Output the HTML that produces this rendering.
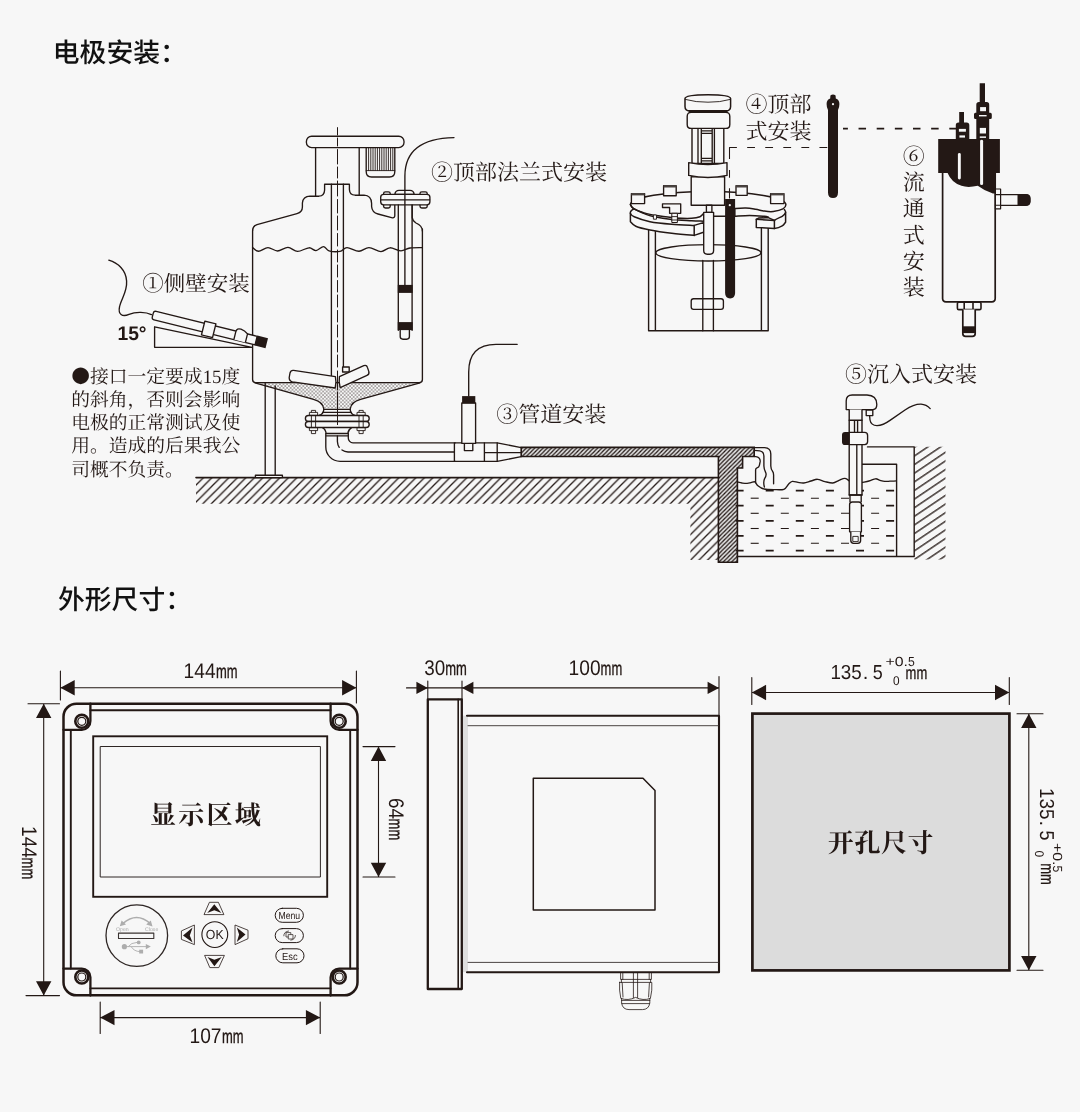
<!DOCTYPE html>
<html lang="zh-CN">
<head>
<meta charset="utf-8">
<title>电极安装 / 外形尺寸</title>
<style>
html,body{margin:0;padding:0;background:#f7f7f7;}
body{width:1080px;height:1112px;overflow:hidden;font-family:"Liberation Sans","Noto Sans CJK SC",sans-serif;}
svg{display:block;will-change:transform;transform:translateZ(0);}
text{text-rendering:geometricPrecision;}
.k{fill:none;stroke:#231815;stroke-width:1.35;stroke-linecap:round;stroke-linejoin:round;}
.kb{fill:#f7f7f7;stroke:#231815;stroke-width:1.35;stroke-linejoin:round;}
.t2{stroke-width:1.9;}
.t15{stroke-width:1.5;}
.thin{stroke-width:0.8;}
.blk{fill:#231815;stroke:none;}
.ttl{font-family:"Liberation Sans","Noto Sans CJK SC",sans-serif;font-weight:500;font-size:26.8px;fill:#111;}
.lab{font-family:"Liberation Serif","Noto Serif CJK SC",serif;font-size:22px;fill:#231815;}
.note{font-family:"Liberation Serif","Noto Serif CJK SC",serif;font-size:18.8px;fill:#231815;}
.dim{font-family:"Liberation Sans","Noto Sans CJK SC",sans-serif;font-size:19.5px;fill:#231815;}
.big{font-family:"Liberation Serif","Noto Serif CJK SC",serif;font-weight:700;font-size:26px;fill:#231815;}
.btn{font-family:"Liberation Sans",sans-serif;fill:#231815;}
</style>
</head>
<body>
<svg width="1080" height="1112" viewBox="0 0 1080 1112">
<defs>
<pattern id="hatch" patternUnits="userSpaceOnUse" width="8.5" height="8.5" x="-0.4" y="477.5">
<path d="M-1,9.5 L9.5,-1 M-1,1 L1,-1 M7.5,9.5 L9.5,7.5" stroke="#231815" stroke-width="1.3" fill="none"/>
</pattern>
<pattern id="hatchR" patternUnits="userSpaceOnUse" width="12" height="7.15" patternTransform="translate(914,452) rotate(-34)">
<path d="M-1,3.5 H13" stroke="#231815" stroke-width="1.3" fill="none"/>
</pattern>
<pattern id="dense" patternUnits="userSpaceOnUse" width="4.2" height="4.2">
<rect width="4.2" height="4.2" fill="#e2e2e2"/>
<path d="M-1,5.2 L5.2,-1 M-1,1 L1,-1 M3.2,5.2 L5.2,3.2" stroke="#231815" stroke-width="1.25" fill="none"/>
</pattern>
<pattern id="dots" patternUnits="userSpaceOnUse" width="3.6" height="3.6">
<rect width="3.6" height="3.6" fill="#f7f7f7"/>
<circle cx="0.9" cy="0.9" r="0.62" fill="#231815"/><circle cx="2.7" cy="2.7" r="0.62" fill="#231815"/>
</pattern>
</defs>
<rect width="1080" height="1112" fill="#f7f7f7"/>

<!-- TITLES -->
<text class="ttl" x="52.8" y="61.5">电极安装：</text>
<text class="ttl" x="58" y="608.8">外形尺寸：</text>

<!--TOP-->
<!-- ===== ground ===== -->
<g id="ground">
<path d="M196,477.4 H718 V560 H690.4 V503.8 H196 Z" fill="url(#hatch)"/>
<path class="k" d="M196,477.6 H718" style="stroke-width:1.6"/>
</g>
<!-- ===== tank ===== -->
<g id="tank">
<!-- funnel stipple -->
<path d="M255,382.6 H420 L360.5,399.4 Q351,402 350.2,408.6 H323.8 Q323,402 313.5,399.4 Z" fill="url(#dots)"/>
<path class="k" d="M252.6,230.5 V379.5 Q252.6,382.6 255.6,382.6 H419.4 Q422.4,382.6 422.4,379.5 V229"/>
<path class="k" d="M255,382.8 L313.5,399.4 Q323,402 323.8,409 Q323.8,414 319,415.4 M420,382.8 L360.5,399.4 Q351,402 350.2,409 Q350.2,414 355,415.4"/>
<path class="k" d="M324,409.4 H350 M322.5,412.3 H351.5"/>
<!-- top shoulder -->
<path class="k" d="M252.6,230.5 Q252.6,226 257,224.6 L297,213.6 Q302.4,212 302.4,207 V203 Q303,196.4 310,196.2 H319 Q324.4,196 324.6,190 V184.2 H349.4 V189.5 Q349.6,195 355,195.2 H364 Q371.4,195.6 371.6,203.5 V206.5 Q372,212.4 378,214 L392.5,217.8 Q394.8,218 394.8,215.5 V205"/>
<path class="k" d="M412.2,205 V217.5 Q412.6,221 416,223 Q422.2,225.6 422.4,231"/>
<!-- top cap & motor -->
<rect class="k" x="306.4" y="136.2" width="97.6" height="11.4" rx="5.2"/>
<path class="k" d="M315.6,147.6 V196 M359.2,147.6 V194.8"/>
<path class="k" d="M366.2,147.6 V171.5 Q366.2,177 371.5,177 H389.5 Q394.8,177 394.8,171.5 V147.6"/>
<path class="k" d="M368.6,148 V170.4 M370.8,148 V170.4 M373,148 V170.4 M375.2,148 V170.4 M377.4,148 V170.4 M379.6,148 V170.4 M381.8,148 V170.4 M384,148 V170.4 M386.2,148 V170.4 M388.4,148 V170.4 M390.6,148 V170.4 M392.8,148 V170.4 M366.2,170.6 H394.8" style="stroke-width:0.9"/>
<!-- shaft -->
<path class="k" d="M331.4,184.2 V376.6 M343.4,184.2 V366.6"/>
<!-- liquid -->
<path class="k" d="M252.6,247.6 C253.6,248.2 255.9,251.2 258.5,251.2 C261.1,251.2 264.8,247.6 268.0,247.6 C271.2,247.6 274.2,251.0 277.5,251.0 C280.8,251.0 284.7,247.3 288.0,247.4 C291.3,247.5 294.0,251.3 297.5,251.4 C301.0,251.5 305.9,247.9 309.0,247.8 C312.1,247.7 313.6,250.8 316.0,250.6 C318.4,250.4 321.3,246.6 323.5,246.6 C325.7,246.6 326.2,250.0 329.0,250.8 C331.8,251.6 337.0,251.9 340.0,251.4 C343.0,250.9 343.8,247.6 347.0,247.6 C350.2,247.6 355.3,251.2 359.0,251.2 C362.7,251.2 365.3,247.5 369.0,247.6 C372.7,247.7 377.5,251.6 381.0,251.6 C384.5,251.6 386.7,247.9 390.0,247.8 C393.3,247.7 397.7,250.8 401.0,250.8 C404.3,250.8 406.4,248.5 410.0,248.0 C413.6,247.5 420.3,247.7 422.4,247.6"/>
<!-- impeller -->
<rect class="kb" x="342.6" y="367" width="6.6" height="5"/>
<path class="kb" d="M293.6,370.4 L335.4,376.6 Q336.6,382 335.2,388 L292.4,381.8 Q289,381 289.2,377.5 L290,373 Q290.8,370 293.6,370.4 Z"/>
<path class="kb" d="M339.4,376.6 L363.8,365.6 Q366.6,364.6 367.4,367.4 L368.8,371.4 Q369.6,374.2 367,375.4 L340.2,387.6 Q338.6,382 339.4,376.6 Z"/>
<!-- bottom flange -->
<g class="kb">
<rect x="311.4" y="410.4" width="4.2" height="23.2" stroke-width="0.9"/><rect x="359" y="410.4" width="4.2" height="23.2" stroke-width="0.9"/>
<rect x="309.4" y="412.4" width="8.2" height="3"  stroke-width="0.9"/><rect x="357" y="412.4" width="8.2" height="3" stroke-width="0.9"/>
<rect x="309.4" y="427.6" width="8.2" height="3"  stroke-width="0.9"/><rect x="357" y="427.6" width="8.2" height="3" stroke-width="0.9"/>
</g>
<rect class="kb" x="305.4" y="415.5" width="63.8" height="6" rx="3"/>
<rect class="kb" x="305.4" y="421.5" width="63.8" height="6" rx="3"/>
<path class="k" d="M311.4,415.5 V427.5 M315.6,415.5 V427.5 M359,415.5 V427.5 M363.2,415.5 V427.5" style="stroke-width:0.9"/>
<path class="k" d="M322.4,427.6 Q325.4,429 326.2,433.5 H347.8 Q348.4,429.4 351.6,427.6 M326.2,435.8 H347.8"/>
<path class="k" d="M337.5,127.6 V135 M337.5,138 V146 M337.5,149.5 V164 M337.5,167 V178 M337.5,181 V196 M337.5,199.5 V213 M337.5,216 V230 M337.5,233.5 V246 M337.5,250 V262 M337.5,265 V277 M337.5,280.5 V292 M337.5,295 V307 M337.5,310.5 V322 M337.5,325 V337 M337.5,340.5 V352 M337.5,355 V367 M337.5,371 V390 M337.5,392 V424.6" style="stroke-width:1"/>
<!-- pipe -->
<path class="k" d="M325.8,433.5 V447 A14.3,14.3 0 0 0 340.1,461.3 H455.2"/>
<path class="k" d="M348.3,433.5 V438 A4.7,4.7 0 0 0 353,442.8 H455.2"/>
<path class="k" d="M337.4,436 V441.5 Q337.6,445 339.2,447.4 M342,450 Q344.6,451.9 348,452 H454"/>
<!-- leg -->
<path class="k" d="M265.2,383.5 V475.3 M275.2,386 V475.3"/>
<rect class="kb" x="255.4" y="475.2" width="27" height="2.4"/>
<!-- top flange electrode 2 -->
<g class="kb">
<rect x="383.6" y="191.8" width="6.6" height="16.2" rx="1.8"/><rect x="420" y="191.8" width="7.2" height="16.2" rx="1.8"/>
<path d="M394.8,194.3 Q395.4,190.3 399,190.3 H410 Q413.6,190.3 414.2,194.3 Z"/>
<rect x="380.7" y="194.3" width="49.2" height="10.5" rx="3"/>
</g>
<path class="k" d="M381,199.8 H429.6"/>
<path class="k" d="M398.3,204.8 V330.2 M412.1,204.8 V330.2"/>
<rect class="blk" x="397.8" y="284.9" width="14.9" height="8"/>
<rect class="blk" x="397.8" y="322.1" width="14.9" height="8"/>
<path class="k" d="M400.2,330.2 V336.6 Q400.2,339.2 403,339.2 H406.6 Q409.4,339.2 409.4,336.6 V330.2"/>
<!-- cable 2 -->
<path class="k" d="M404.9,284.9 V176 Q404.9,138.5 454,137.6"/>
</g>
<!-- ===== electrode 1 (side wall) ===== -->
<g id="e1">
<path class="k" d="M154.6,326.8 V347.3 H252 L154.6,326.8"/>
<path class="k" d="M151.4,314.6 C146,312 136,311.4 129,314.4 C122,317.4 118,314 119.5,307 C121,299 127.4,292 126.6,281 C126,270 118,263 108.8,260.2"/>
<g transform="translate(152.8,315) rotate(13.9)">
<path class="kb" d="M2.4,-4.4 H106.4 V4.4 H2.4 Q0,4.4 0,2 V-2 Q0,-4.4 2.4,-4.4 Z"/>
<rect class="kb" x="52" y="-6.6" width="11.4" height="14.2"/>
<path class="kb" d="M84.6,4.4 V-4 Q84.8,-7.8 89,-7.4 Q93,-7 96.5,-4.4 V4.4"/>
<rect class="blk" x="106.4" y="-5.2" width="11" height="10.4"/>
</g>
</g>
<!-- ===== pipe sensor 3 ===== -->
<g id="e3">
<path class="k" d="M455.2,442.8 H497.2 L521.2,447.7 M455.2,461.3 H497.2 L521.2,456.7"/>
<path class="k" d="M454.4,442.8 V461.3 M484.4,442.8 V461.3 M497.2,442.8 V461.3 M484.4,452.6 H521"/>
<rect class="kb" x="464.4" y="443.3" width="8.4" height="7.3"/>
<rect class="kb" x="461.8" y="403" width="13.8" height="40.3"/>
<rect class="blk" x="462.1" y="396.1" width="13.2" height="7.2"/>
<path class="k" d="M468.7,396.1 V372 Q468.7,344.4 496,344.3 H517.2"/>
</g>
<!-- hatched pipe & wall -->
<path d="M521.2,447.4 H754.2 V456.5 H742.6 V468 H737.4 V562.2 H718.4 V456.5 H521.2 Z" fill="url(#dense)" stroke="#231815" stroke-width="1.6" stroke-linejoin="miter"/>
<!-- ===== pool ===== -->
<g id="pool">
<path d="M914.2,446.8 H945.5 V559.5 H914.2 Z" fill="url(#hatchR)"/>
<path class="k" d="M737.4,556.5 H914.2 V446.9 H867.5 M862.2,464.2 H896.6 V556.5" style="stroke-width:1.4"/>
<!-- water dashes -->
<g class="k" stroke-dasharray="8 22.1" style="stroke-width:1.8;stroke-linecap:butt">
<path d="M735.6,490.6 H896"/><path d="M735.6,505.7 H896"/><path d="M735.6,520.9 H896"/><path d="M735.6,535.9 H896"/><path d="M735.6,550.6 H896"/>
</g>
<g class="k" stroke-dasharray="8 22.1" style="stroke-width:1.1;stroke-linecap:butt">
<path d="M750.7,498.2 H896"/><path d="M750.7,513.3 H896"/><path d="M750.7,528.5 H896"/><path d="M750.7,543.3 H896"/>
</g>
<!-- waterfall -->
<path class="k" d="M754.2,447.6 H764.6 Q770.8,447.8 770.8,454 V466 Q771,469.6 772.4,471 Q773.8,472.6 773.6,476 V483.7"/>
<path class="k" d="M754.2,450.4 L759.8,450.8 Q763.8,451.4 763.9,456 V466 Q764,469.4 765.6,472.4 Q767,475 764.6,478.6 Q763,482 764.4,487"/>
<path class="k" d="M754.2,456.4 L757,456.9 Q760.4,458 760.2,461.4 L759.4,465.4 Q759,467.4 757,467.8 Q755.6,468.4 755.6,470 V482.8"/>
<path class="k" d="M737.4,481.9 C738.2,482.1 740.4,482.8 742.0,483.0 C743.6,483.2 745.7,483.5 747.2,483.4 C748.7,483.3 749.7,482.9 751.0,482.6 C752.3,482.4 753.8,481.4 754.9,481.9 C756.0,482.4 756.4,484.5 757.9,485.7 C759.4,486.9 761.3,488.4 764.0,489.0 C766.7,489.6 770.7,489.6 774.0,489.6 C777.3,489.7 781.5,490.2 783.9,489.3 C786.3,488.4 787.1,485.5 788.5,484.2 C789.9,482.9 790.7,481.7 792.3,481.4 C793.9,481.1 796.1,482.1 798.0,482.4 C799.9,482.7 801.6,483.2 803.8,483.0 C806.0,482.8 808.7,481.6 811.0,481.0 C813.3,480.4 815.2,479.2 817.5,479.3 C819.8,479.4 822.5,481.0 825.0,481.6 C827.5,482.2 830.5,483.2 832.8,483.0 C835.1,482.8 837.0,481.2 839.0,480.4 C841.0,479.6 843.2,478.3 845.0,478.4 C846.8,478.5 848.8,480.7 849.6,481.1"/>
<path class="k" d="M861.8,482.6 C863.0,482.3 866.7,481.6 869.0,481.0 C871.3,480.4 873.8,478.9 875.6,478.8 C877.4,478.7 878.5,480.0 880.0,480.4 C881.5,480.8 883.0,481.3 884.7,481.4 C886.4,481.5 888.0,481.3 890.0,481.2 C892.0,481.1 895.3,480.9 896.4,480.8"/>
</g>
<!-- ===== immersion electrode 5 ===== -->
<g id="e5">
<path class="kb" d="M846.2,401 Q846.2,395 852.2,395 H867 Q876.8,395.4 876.8,404.4 Q876.8,409.2 873,409.6 H846.2 Z"/>
<rect class="kb" x="866.2" y="410" width="6.6" height="5.6"/>
<path class="k" d="M869.6,415.6 L870,420 Q871,425.6 877,425.6 Q883,425.4 890,420.4 L905,410 Q914,404 921,404.2 Q926.4,404.6 930.2,408.6"/>
<path class="kb" d="M849.2,409.6 V495 H862 V409.6" style="stroke-width:1.4"/>
<path class="k" d="M849.2,420.2 H862 M854.5,420.2 V432.4 M857.6,420.2 V432.4 M856.8,444.6 V495 M849.2,495 H862"/>
<path class="kb" d="M849.2,432.4 H864.6 Q867.6,432.4 867.6,435.4 V441.6 Q867.6,444.6 864.6,444.6 H849.2 Z"/>
<path class="blk" d="M849.4,431.9 H845 Q842,431.9 842,435 V442 Q842,445.1 845,445.1 H849.4 Z"/>
<path class="kb" d="M850,495 V502 M861.2,495 V502"/>
<path class="kb" d="M849.6,504.6 Q849.6,502 852.4,502 H858.6 Q861.4,502 861.4,504.6 V531.8 H849.6 Z"/>
<path class="kb" d="M850.8,531.8 V540.6 Q850.8,543.3 853.6,543.3 H857.8 Q860.6,543.3 860.6,540.6 V531.8"/>
<rect class="k" x="853.2" y="536.4" width="5" height="5.2" style="stroke-width:0.9"/>
</g>
<!-- ===== reactor 4 ===== -->
<g id="r4">
<!-- vessel -->
<path class="k" d="M648.6,222 V330.7 H768.2 V222 M655.4,226 V330.7 M761.4,226 V330.7" style="stroke-width:1.4"/>
<ellipse class="k" cx="708.4" cy="252.8" rx="52.6" ry="8.2"/>
<path class="k" d="M702.8,260.5 V330.7 M713.4,260.5 V330.7"/>
<path class="kb" d="M693.6,298.7 H721 Q723.4,298.7 723.4,301 V307 Q723.4,309.3 721,309.3 H693.6 Q691.2,309.3 691.2,307 V301 Q691.2,298.7 693.6,298.7 Z"/>
<path class="k" d="M702.8,298.7 V309.3 M713.4,298.7 V309.3"/>
<!-- flange (lower plate) -->
<path fill="#f7f7f7" stroke="none" d="M633.3,209.2 C633.0,209.5 631.7,210.1 631.2,210.8 C630.8,211.5 629.9,212.3 630.4,213.3 V221.7 C631.3,222.5 632.5,224.9 635.8,226.2 C639.1,227.6 644.0,228.8 650.0,230.0 C656.0,231.2 664.3,232.4 671.7,233.3 C679.1,234.2 690.5,235.1 694.2,235.4 L705,231.7 V222.1 L694.2,225.4 L660,215 Z"/>
<path class="k" d="M633.3,209.2 C633.0,209.5 631.7,210.1 631.2,210.8 C630.8,211.5 629.9,212.3 630.4,213.3 V221.7 C631.3,222.5 632.5,224.9 635.8,226.2 C639.1,227.6 644.0,228.8 650.0,230.0 C656.0,231.2 664.3,232.4 671.7,233.3 C679.1,234.2 690.5,235.1 694.2,235.4 L705,231.7 V222.1 L694.2,225.4" style="stroke-width:1.5"/>
<path class="k" d="M630.4,213.3 C630.9,214.3 630.9,215.3 634.2,216.7 C637.5,218.1 643.8,220.4 650.0,221.7 C656.2,222.9 664.3,223.6 671.7,224.2 C679.1,224.8 690.5,225.2 694.2,225.4 V235.4" style="stroke-width:1.5"/>
<!-- right flange -->
<path fill="#f7f7f7" stroke="none" d="M784.4,209.6 C784.6,210.1 786.0,211.5 785.6,212.6 V222.2 C785.0,222.8 784.0,224.8 782.2,225.9 C780.4,227.0 776.0,228.4 774.4,228.6 L760,222 L770,212 Z"/>
<path class="k" d="M784.4,209.6 C784.6,210.1 786.0,211.5 785.6,212.6 V222.2 C785.0,222.8 784.0,224.8 782.2,225.9 C780.4,227.0 776.0,228.4 774.4,228.6" style="stroke-width:1.5"/>
<path class="k" d="M785.6,212.6 C785.2,213.7 784.0,215.2 782.2,216.3 C780.4,217.4 776.0,218.8 774.4,220.4" style="stroke-width:1.5"/>
<path class="kb" d="M756.3,219.3 L758.5,218.1 L768.3,217.6 L774.4,220.4 V228.5 L756.3,227.4 Z" style="stroke-width:1.5"/>
<path class="k" d="M756.3,219.3 L774.4,220.4" style="stroke-width:1.5"/>
<!-- lid -->
<path class="kb" d="M630.4,204.6 A77.6,13.2 0 0 1 785.9,204.8 C785.8,206.3 785.1,207.8 783.0,208.9 C780.9,210.0 776.4,211.1 773.3,211.5 C770.2,211.9 767.3,211.5 764.4,211.1 C761.5,210.7 758.7,209.8 755.6,209.3 C752.5,208.8 749.4,208.2 745.9,208.1 C742.4,208.0 736.6,208.4 734.8,208.5 V216.3 H713 V221.2 H703.4 C701.5,221.1 697.0,221.1 691.7,220.8 C686.4,220.5 678.1,220.3 671.7,219.6 C665.3,218.9 658.0,217.6 653.3,216.6 C648.6,215.6 645.2,213.9 643.6,213.4 C640.0,211.7 635.6,209.7 633.3,208.3 C631.0,206.9 630.9,205.2 630.4,204.6 Z" style="stroke-width:1.5"/>
<path class="k" d="M630.4,204.6 C630.9,205.2 631.0,206.9 633.3,208.3 C635.6,209.7 640.0,211.7 644.2,212.9 C648.4,214.2 653.2,215.0 658.3,215.8 C663.4,216.6 669.4,217.5 675.0,217.9 C680.6,218.3 687.5,218.5 691.7,218.3 C695.9,218.1 698.0,217.5 700.0,216.7 C702.0,215.9 703.1,213.9 703.8,213.3" style="stroke-width:1.5"/>
<path class="k" d="M734.8,216.3 C737.3,216.2 744.7,215.6 749.6,215.6 C754.5,215.6 761.3,216.1 764.4,216.3 C767.5,216.5 767.5,216.9 768.1,217.0" style="stroke-width:1.5"/>
<!-- bracket on lid -->
<path class="kb" d="M662.5,203.8 H680.7 V213.3 H669.6 V207.5 H662.5 Z"/>
<rect class="kb" x="671.8" y="213.3" width="5.6" height="9.2" style="stroke-width:1"/><path class="k" d="M671.8,216.6 H677.4 M671.8,220 H677.4" style="stroke-width:0.9"/>
<rect class="kb" x="653.4" y="215" width="3.1" height="4.2" style="stroke-width:0.9"/>
<!-- bolts -->
<g class="kb">
<rect x="631.4" y="193.6" width="13.2" height="10"/><rect x="663.6" y="185.7" width="12.6" height="10"/>
<rect x="736" y="185.7" width="11.2" height="9.6"/><rect x="770.6" y="193.6" width="13.4" height="10"/>
</g>
<g fill="#4a4340"><rect x="631.4" y="193" width="13.2" height="2.4"/><rect x="663.6" y="185.1" width="12.6" height="2.4"/><rect x="736" y="185.1" width="11.2" height="2.4"/><rect x="770.6" y="193" width="13.4" height="2.4"/></g>
<!-- motor column -->
<rect class="kb" x="691.2" y="176.7" width="33.4" height="28.5" style="stroke-width:1.4"/>
<rect class="kb" x="706.4" y="205.2" width="5.5" height="7.2"/>
<path class="kb" d="M703.7,212.4 H713.6 V250.5 Q713.6,254.2 710,254.2 H707.3 Q703.7,254.2 703.7,250.5 Z"/>
<rect class="kb" x="692" y="127.5" width="31.8" height="36" style="stroke-width:1.4"/>
<path class="k" d="M698,128 V163 M701.3,128 V163 M712.2,128 V163 M714.4,128 V163 M701.3,130.8 H712.2 M701.3,133.4 H712.2 M701.3,158.3 H712.2 M701.3,160.8 H712.2"/>
<path class="kb" d="M688.7,162.6 Q708,166.6 727,162.6 V175.4 Q708,179.6 688.7,175.4 Z" style="stroke-width:1.4"/>
<path class="kb" d="M687.2,116.4 Q687.2,112.4 691.2,112.4 H725.8 Q729.8,112.4 729.8,116.4 V124.4 Q729.8,128.4 725.8,128.4 H691.2 Q687.2,128.4 687.2,124.4 Z" style="stroke-width:1.4"/>
<path class="blk" d="M688.6,110 H727.6 V112.6 H688.6 Z"/>
<path class="kb" d="M685,98.6 Q685,95 708,94.8 Q730.6,95 730.6,98.6 V106.4 Q730.6,110.8 726,110.8 H689.6 Q685,110.8 685,106.4 Z" style="stroke-width:1.5"/>
<path class="k" d="M685.2,99.4 Q696,102.4 708,102.2 Q720,102.4 730.4,99.4" style="stroke-width:0.9"/>
<!-- black electrode in vessel -->
<path class="blk" d="M725.1,198.9 H735.1 V293 Q735.1,298.4 730.1,298.4 Q725.1,298.4 725.1,293 Z"/>
<circle cx="729.8" cy="205.2" r="1.1" fill="#f7f7f7"/>
<!-- dashed guide -->
<path class="k" d="M729.1,147.4 H828" stroke-dasharray="7.8 10.27" style="stroke-width:1.05;stroke-linecap:butt"/>
<path class="k" d="M729.5,147.4 V158.9 M729.5,170 V177.8 M729.5,188.3 V198.5" style="stroke-width:1.05;stroke-linecap:butt"/>
<path class="k" d="M843,128.7 H956" stroke-dasharray="7.5 10.65" stroke-dashoffset="2.6" style="stroke-width:1.8;stroke-linecap:butt"/>
<!-- standalone electrode -->
<path class="blk" d="M830.4,95.6 Q833,93.2 835.6,95.6 L835.8,98.4 Q839.4,99.6 839.4,104 Q839.4,107.6 838,110 V192.4 Q838,197.9 833,197.9 Q828,197.9 828,192.4 V110 Q826.6,107.6 826.6,104 Q826.6,99.6 830.2,98.4 Z"/>
<circle cx="833" cy="104.2" r="1.1" fill="#f7f7f7"/>
</g>
<!-- ===== flow cell 6 ===== -->
<g id="f6">
<path class="kb" d="M942.6,170 V298.6 Q942.6,301.9 946,301.9 H991.8 Q995.2,301.9 995.2,298.6 V170" style="stroke-width:1.7"/>
<!-- bottom fitting -->
<rect class="kb" x="957.4" y="302.2" width="23.6" height="7.4" rx="1.4" style="stroke-width:1.6"/>
<path class="k" d="M964.2,302.2 V309.6 M973,302.2 V309.6" style="stroke-width:1.6"/>
<path class="kb" d="M962.8,309.6 V333.4 Q962.8,336.3 965.6,336.3 H972.4 Q975.2,336.3 975.2,333.4 V309.6" style="stroke-width:1.7"/>
<rect class="blk" x="962.4" y="326.3" width="13.2" height="6.8"/>
<!-- side outlet -->
<rect class="kb" x="995.4" y="189" width="5.2" height="19.8" style="stroke-width:1.2"/>
<path class="k" d="M995.4,194.6 H1000.6 M995.4,205.3 H1000.6" style="stroke-width:1.1"/>
<path class="kb" d="M1000.6,194.6 H1026 Q1030,194.6 1030,198.6 V201.3 Q1030,205.3 1026,205.3 H1000.6 Z" style="stroke-width:1.2"/>
<path class="blk" d="M1017.5,194.2 H1026 Q1030.4,194.2 1030.4,198.6 V201.3 Q1030.4,205.7 1026,205.7 H1017.5 Z"/>
<!-- black cap -->
<path class="blk" d="M938.2,138.9 H999.9 V172.9 H995.9 V193.4 H992.9 Q984.1,190.8 977.8,185.8 Q967.8,188 961.5,185.8 Q951.4,182.4 947.6,172.9 H938.2 Z"/>
<rect x="957.9" y="153" width="2.9" height="26.5" rx="1.4" fill="#f7f7f7"/>
<rect x="980.1" y="139.8" width="3" height="45.3" rx="1.4" fill="#f7f7f7"/>
<!-- connectors -->
<path class="blk" d="M959.2,112.1 H964 V122.4 H966.6 Q969.3,122.4 969.3,125.2 V139.2 H955.8 V125.2 Q955.8,122.4 958.6,122.4 H959.2 Z"/>
<rect x="958.9" y="128.9" width="7" height="2.8" fill="#f7f7f7"/><rect x="959.4" y="135.4" width="5.6" height="2.2" fill="#f7f7f7"/>
<path class="blk" d="M979.7,83.2 H985 V102.1 H986.6 Q989.2,102.1 989.2,104.8 V112.8 H990.4 Q991.8,112.8 991.8,114.4 V117.4 Q991.8,119 990.4,119 H989.2 V139.2 H976.3 V119 H975.4 Q974,119 974,117.4 V114.4 Q974,112.8 975.4,112.8 H976.3 V104.8 Q976.3,102.1 979,102.1 H979.7 Z"/>
<rect x="980.1" y="107.1" width="5.9" height="4.1" fill="#f7f7f7"/><rect x="979" y="115" width="7.6" height="1.4" fill="#f7f7f7"/>
<rect x="979.8" y="127.9" width="6.2" height="5.6" fill="#f7f7f7"/><rect x="979.8" y="136.4" width="6.2" height="1.5" fill="#f7f7f7"/>
</g>
<!-- ===== labels ===== -->
<g class="lab">
<text x="142.2" y="290.6" font-size="21.5">①侧壁安装</text>
<text x="431" y="179.6">②顶部法兰式安装</text>
<text x="496.2" y="422.2">③管道安装</text>
<text x="745.4" y="112">④顶部</text>
<text x="745.4" y="139">式安装</text>
<text x="845" y="381.8">⑤沉入式安装</text>
<g text-anchor="middle">
<text x="913.8" y="164.2">⑥</text><text x="913.8" y="190">流</text><text x="913.8" y="216.4">通</text><text x="913.8" y="242.8">式</text><text x="913.8" y="269">安</text><text x="913.8" y="295">装</text>
</g>
</g>
<text x="117.4" y="339.7" font-family="Liberation Sans, sans-serif" font-weight="700" font-size="19.8" fill="#231815" textLength="29.2" lengthAdjust="spacingAndGlyphs">15°</text>
<g class="note">
<text x="71.2" y="383" textLength="169" lengthAdjust="spacing"><tspan font-family="Noto Serif CJK SC, serif">●</tspan>接口一定要成15度</text>
<text x="71.2" y="406.4">的斜角，否则会影响</text>
<text x="71.2" y="429.1">电极的正常测试及使</text>
<text x="71.2" y="452.2">用。造成的后果我公</text>
<text x="71.2" y="475.6">司概不负责。</text>
</g>

<!--/TOP-->

<!--BOTTOM-->
<!-- ===== front view ===== -->
<g id="front">
<rect class="k" x="63.5" y="703.7" width="294" height="291.6" rx="13" ry="13" style="stroke-width:2.5"/>
<path class="k" d="M90.4,710.3 H330.6 M90.4,988.4 H330.6 M70.8,730 V968.6 M350.2,730 V968.6" style="stroke-width:1.9"/>
<path class="k" d="M90.4,703.7 V721 A8.6,8.6 0 0 1 81.8,729.8 H63.5" style="stroke-width:2.3"/>
<path class="k" d="M330.6,703.7 V721 A8.6,8.6 0 0 0 339.2,729.8 H357.5" style="stroke-width:2.3"/>
<path class="k" d="M90.4,995.5 V977.2 A8.6,8.6 0 0 0 81.8,968.6 H63.5" style="stroke-width:2.3"/>
<path class="k" d="M330.6,995.5 V977.2 A8.6,8.6 0 0 1 339.2,968.6 H357.5" style="stroke-width:2.3"/>
<g class="k">
<circle cx="81.8" cy="721.3" r="6.5" stroke-width="2.6"/><circle cx="81.8" cy="721.3" r="4" stroke-width="1.2"/>
<circle cx="339.2" cy="721.3" r="6.5" stroke-width="2.6"/><circle cx="339.2" cy="721.3" r="4" stroke-width="1.2"/>
<circle cx="81.8" cy="977" r="6.5" stroke-width="2.6"/><circle cx="81.8" cy="977" r="4" stroke-width="1.2"/>
<circle cx="339.2" cy="977" r="6.5" stroke-width="2.6"/><circle cx="339.2" cy="977" r="4" stroke-width="1.2"/>
</g>
<rect class="k" x="93.2" y="736.3" width="234" height="160.5" style="stroke-width:1.9;stroke-linejoin:miter"/>
<rect class="k" x="100.6" y="746.5" width="219.8" height="130.5" style="stroke-width:1;stroke:#2e2624"/>
<text class="big" x="206.5" y="823.5" text-anchor="middle" letter-spacing="2.2">显示区域</text>
<!-- usb cover -->
<circle class="k" cx="136.8" cy="935.6" r="30.8" style="stroke-width:1.3;stroke:#2e2624"/>
<rect class="k" x="118.5" y="933.1" width="35.3" height="5.4" style="stroke-width:1.1;stroke:#3a3331"/>
<path d="M123,923.4 Q136.6,911.6 150.2,923.4" fill="none" stroke="#adadad" stroke-width="1.6" stroke-linecap="round"/>
<path d="M119.8,926.2 L121.6,920.4 L126,924.4 Z M152.5,926.4 L150.8,920.4 L146.2,924.4 Z" fill="#adadad"/>
<text x="116" y="930.9" font-size="5.2" style="fill:#acacac;font-family:'Liberation Sans',sans-serif">Open</text>
<text x="145" y="930.9" font-size="5.2" style="fill:#acacac;font-family:'Liberation Sans',sans-serif">Close</text>
<g fill="none" stroke="#adadad" stroke-width="0.9" stroke-linecap="round">
<path d="M126,946.6 H146.5 M128.4,946.4 Q131,942.6 136.8,942.4 M131.4,947 Q134,951.4 139.6,951.6"/>
</g>
<circle cx="124.4" cy="946.7" r="2.6" fill="#adadad"/><circle cx="138.7" cy="942.4" r="1.9" fill="#adadad"/>
<rect x="139.2" y="949.7" width="3.9" height="3.8" fill="#adadad"/>
<path d="M150.8,946.6 l-5,-2.7 v5.4 z" fill="#adadad"/>
<!-- keypad -->
<circle class="k" cx="214.8" cy="934.6" r="12.9" style="stroke-width:1.1"/>
<text class="btn" x="214.7" y="938.9" text-anchor="middle" textLength="17.8" lengthAdjust="spacingAndGlyphs" style="font-size:13.2px">OK</text>
<g class="k" style="stroke-width:0.8;stroke-linejoin:miter">
<path d="M209.8,902.3 H218.4 L223.9,914.6 H204.4 Z"/>
<path d="M210.2,967.6 H218.8 L224.4,955.4 H205 Z"/>
<path d="M181.4,931.3 V939.4 L194.4,944.6 V925.4 Z"/>
<path d="M248,930.6 V938.7 L235,944.6 V925.4 Z"/>
</g>
<g class="blk">
<path d="M214.3,904.2 L221.4,913 L214.3,910.2 L207.2,913 Z"/>
<path d="M214.4,966.2 L221.8,957 L214.4,959.8 L207.5,957 Z"/>
<path d="M183,935.4 L192.6,927.5 L189.8,935.4 L192.6,942.5 Z"/>
<path d="M245.5,934.6 L236.8,927.5 L239.1,934.6 L236.8,942.1 Z"/>
</g>
<g class="k" style="stroke-width:1">
<rect x="275.2" y="908.3" width="28.2" height="14" rx="7"/>
<rect x="275.2" y="928.6" width="28.2" height="14" rx="7"/>
<rect x="275.8" y="948.8" width="28.2" height="14" rx="7"/>
</g>
<text class="btn" x="289.3" y="919" text-anchor="middle" textLength="21.6" lengthAdjust="spacingAndGlyphs" style="font-size:10.2px">Menu</text>
<text class="btn" x="289.9" y="959.5" text-anchor="middle" textLength="15.6" lengthAdjust="spacingAndGlyphs" style="font-size:10.2px">Esc</text>
<g class="k" style="stroke-width:0.7">
<rect x="286.4" y="932.6" width="4.4" height="4.4"/><rect x="288.6" y="934.6" width="4.4" height="4.4" fill="#f7f7f7"/>
<path d="M283.8,935.8 A5.6,4.8 0 0 1 288.6,931 M295.4,935.4 A5.6,4.8 0 0 1 290.8,940.2"/>
</g>
</g>
<!-- dims front -->
<g class="k" style="stroke-width:1.1">
<path d="M60.4,671 V700 M356.4,671 V703 M60.4,687.8 H356.4"/>
<path d="M28,703.7 H59.5 M26,995.6 H59.5 M43.7,703.7 V995.6"/>
<path d="M363,746.6 H395 M363,877 H395 M378.5,746.6 V877"/>
<path d="M100.2,1002 V1033.5 M320.2,1002 V1033.5 M100.2,1017.6 H320.2"/>
</g>
<g class="blk">
<path d="M60.4,687.8 l14.3,-7.7 v15.4 z M356.4,687.8 l-14.3,-7.7 v15.4 z"/>
<path d="M43.7,703.7 l-7.7,14.3 h15.4 z M43.7,995.6 l-7.7,-14.3 h15.4 z"/>
<path d="M378.5,746.6 l-7.7,14.3 h15.4 z M378.5,877 l-7.7,-14.3 h15.4 z"/>
<path d="M100.2,1017.6 l14.3,-7.7 v15.4 z M320.2,1017.6 l-14.3,-7.7 v15.4 z"/>
</g>
<!-- dim texts front -->
<g class="dim">
<text x="183.6" y="677.8" font-size="21.2" textLength="32" lengthAdjust="spacingAndGlyphs">144</text>
<text x="216" y="677.8" font-size="19.4" textLength="21.6" lengthAdjust="spacingAndGlyphs" stroke="#231815" stroke-width="0.35">mm</text>
<g transform="translate(21.8,826) rotate(90)">
<text x="0" y="0" font-size="21.2" textLength="32" lengthAdjust="spacingAndGlyphs">144</text>
<text x="31.6" y="0" font-size="19.4" textLength="21.6" lengthAdjust="spacingAndGlyphs" stroke="#231815" stroke-width="0.35">mm</text>
</g>
<g transform="translate(388.8,798) rotate(90)">
<text x="0" y="0" font-size="21.2" textLength="21" lengthAdjust="spacingAndGlyphs">64</text>
<text x="20.6" y="0" font-size="19.4" textLength="21.6" lengthAdjust="spacingAndGlyphs" stroke="#231815" stroke-width="0.35">mm</text>
</g>
<text x="189.5" y="1043" font-size="21.2" textLength="32" lengthAdjust="spacingAndGlyphs">107</text>
<text x="222" y="1043" font-size="19.4" textLength="21.6" lengthAdjust="spacingAndGlyphs" stroke="#231815" stroke-width="0.35">mm</text>
</g>
<!-- ===== side view ===== -->
<g id="side">
<rect x="462.6" y="715.6" width="5.4" height="256.6" fill="#dedede"/>
<path class="k" d="M427.8,699.3 H461.8 V989 H427.8 Z" style="stroke-width:2.3"/><path class="k" d="M458.2,699.3 V989" style="stroke-width:1.6"/>
<path class="k" d="M467,715.7 H719 V972.2 H467" style="stroke-width:2.1"/>
<path class="k" d="M468,725.7 H718 M468,962.4 H718" style="stroke:#4a4442;stroke-width:1"/>
<path class="k t15" d="M533.3,778.2 H643 L655,790.6 V909.9 H533.3 Z"/>
<!-- gland -->
<g class="k" style="stroke-width:0.8">
<path d="M620.6,973 V979.4 H651.4 V973 M622.8,973 V979.4 M633.4,973 V997.6 M637.6,973 V997.6 M649.2,973 V979.4"/>
<path d="M621.4,979.4 V982.4 M650.6,979.4 V982.4"/>
<path d="M619.6,982.4 H651.8 Q652.4,990 650.4,998.4 Q643,1001 635.6,997.4 Q628,1001 620.8,998.4 Q619,990 619.6,982.4 Z"/>
<path d="M622.2,983 L623,997 M649.4,983 L648.6,997"/>
<path d="M621.6,1000.4 H649.8 M622,1003.6 H649.4 M621.6,998.6 V1003 Q622.6,1009.6 629,1009.6 H642.4 Q648.8,1009.6 649.8,1003 V998.6"/>
</g>
</g>
<g class="k" style="stroke-width:1.1">
<path d="M406.5,687.9 H427.8 M427.8,681 V699 M462,681 V699 M427.8,687.9 H719 M719,676.5 V715"/>
</g>
<g class="blk">
<path d="M427.8,687.9 l-11.4,-6.2 v12.4 z M462,687.9 l11.4,-6.2 v12.4 z M719,687.9 l-11.4,-6.2 v12.4 z"/>
</g>
<g class="dim">
<text x="424.2" y="674.6" font-size="21.2" textLength="21" lengthAdjust="spacingAndGlyphs">30</text>
<text x="445.2" y="674.6" font-size="19.4" textLength="21.6" lengthAdjust="spacingAndGlyphs" stroke="#231815" stroke-width="0.35">mm</text>
<text x="568.6" y="674.6" font-size="21.2" textLength="32" lengthAdjust="spacingAndGlyphs">100</text>
<text x="600.6" y="674.6" font-size="19.4" textLength="21.6" lengthAdjust="spacingAndGlyphs" stroke="#231815" stroke-width="0.35">mm</text>
</g>
<!-- ===== cutout ===== -->
<rect x="752.4" y="713.6" width="257" height="256.8" fill="#dcdcdc" stroke="#231815" stroke-width="2.7"/>
<text class="big" x="881" y="852" text-anchor="middle" letter-spacing="0.6">开孔尺寸</text>
<g class="k" style="stroke-width:1.1">
<path d="M751.8,677.5 V704.5 M1009.3,677.5 V704.5 M751.8,692.5 H1009.3"/>
<path d="M1017,713.7 H1043 M1017,970.3 H1043 M1028.8,713.7 V970.3"/>
</g>
<g class="blk">
<path d="M751.8,692.5 l14.3,-7.7 v15.4 z M1009.3,692.5 l-14.3,-7.7 v15.4 z"/>
<path d="M1028.8,713.7 l-7.7,14.3 h15.4 z M1028.8,970.3 l-7.7,-14.3 h15.4 z"/>
</g>
<g class="dim" transform="translate(830.4,679.4)">
<text x="0" y="0" font-size="20.2" textLength="31.4" lengthAdjust="spacingAndGlyphs">135</text>
<text x="32.4" y="0" font-size="20.2">.</text>
<text x="42.4" y="0" font-size="20.2" textLength="10" lengthAdjust="spacingAndGlyphs">5</text>
<text x="55" y="-13.3" font-size="13.2" textLength="22.5" lengthAdjust="spacingAndGlyphs">+0.</text>
<text x="77.6" y="-13.3" font-size="13.2" textLength="6.8" lengthAdjust="spacingAndGlyphs">5</text>
<text x="62.6" y="5.6" font-size="12.6" textLength="6.6" lengthAdjust="spacingAndGlyphs">0</text>
<text x="75.2" y="0" font-size="18.2" textLength="21.6" lengthAdjust="spacingAndGlyphs" stroke="#231815" stroke-width="0.35">mm</text>
</g>
<g class="dim" transform="translate(1040.4,788) rotate(90)">
<text x="0" y="0" font-size="20.2" textLength="31.4" lengthAdjust="spacingAndGlyphs">135</text>
<text x="32.4" y="0" font-size="20.2">.</text>
<text x="42.4" y="0" font-size="20.2" textLength="10" lengthAdjust="spacingAndGlyphs">5</text>
<text x="55" y="-13" font-size="13.2" textLength="22.5" lengthAdjust="spacingAndGlyphs">+0.</text>
<text x="77.6" y="-13" font-size="13.2" textLength="6.8" lengthAdjust="spacingAndGlyphs">5</text>
<text x="62.6" y="5.4" font-size="12.6" textLength="6.6" lengthAdjust="spacingAndGlyphs">0</text>
<text x="75.2" y="-0.4" font-size="18.2" textLength="21.6" lengthAdjust="spacingAndGlyphs" stroke="#231815" stroke-width="0.35">mm</text>
</g>

<!--/BOTTOM-->
</svg>
</body>
</html>
